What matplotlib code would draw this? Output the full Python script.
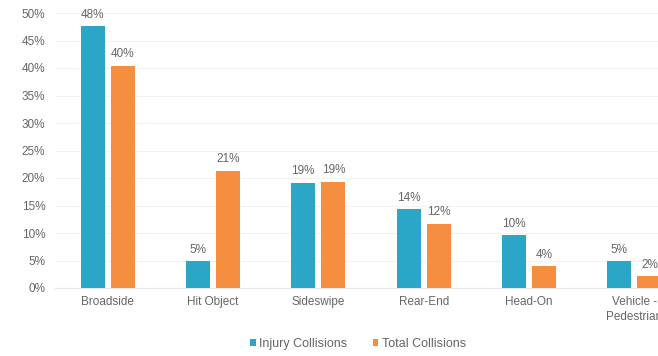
import matplotlib.pyplot as plt
import numpy as np

# Veri
categories = ['Broadside', 'Hit Object', 'Sideswipe', 'Rear-End', 'Head-On', 'Vehicle -\nPedestrian']
injury = [47.6, 4.9, 19.1, 14.3, 9.6, 4.9]
total = [40.4, 21.3, 19.3, 11.7, 4.0, 2.1]
injury_labels = ['48%', '5%', '19%', '14%', '10%', '5%']
total_labels = ['40%', '21%', '19%', '12%', '4%', '2%']
yticks = [0, 5, 10, 15, 20, 25, 30, 35, 40, 45, 50]

teal = '#2ba6c6'
orange = '#f58f3f'
grey = '#666666'

plt.rcParams['font.family'] = ['Liberation Sans', 'DejaVu Sans']

fig = plt.figure(figsize=(6.58, 3.56), dpi=100)
# axes runs past the right edge, like the cropped original
ax = fig.add_axes([55.0 / 658, 68.0 / 356, 632.0 / 658, 275.0 / 356])

x = np.arange(len(categories))
w = 0.228
off = 0.143
b1 = ax.bar(x - off, injury, w, color=teal, label='Injury Collisions', zorder=3)
b2 = ax.bar(x + off, total, w, color=orange, label='Total Collisions', zorder=3)

for rect, lab in zip(b1, injury_labels):
    ax.text(rect.get_x() + rect.get_width() / 2, rect.get_height() + 1.0, lab,
            ha='center', va='bottom', fontsize=8.5, color=grey)
for rect, lab in zip(b2, total_labels):
    ax.text(rect.get_x() + rect.get_width() / 2, rect.get_height() + 1.0, lab,
            ha='center', va='bottom', fontsize=8.5, color=grey)

ax.set_xlim(-0.5, 5.5)
ax.set_ylim(0, 50)
ax.set_yticks(yticks)
ax.set_yticklabels([f'{t}%' for t in yticks])
ax.set_xticks(x)
ax.set_xticklabels(categories, linespacing=1.3)

ax.tick_params(axis='both', length=0, labelsize=8.5, colors=grey)
ax.tick_params(axis='y', pad=7)
ax.tick_params(axis='x', pad=6)
ax.yaxis.grid(True, color='#f2f2f2', linewidth=0.8, zorder=0)
for s in ['top', 'right', 'left']:
    ax.spines[s].set_visible(False)
ax.spines['bottom'].set_color('#e6e6e6')

fig.legend(handles=[b1, b2], loc='center', bbox_to_anchor=(358.0 / 658, 1 - 344.0 / 356),
           ncol=2, frameon=False, fontsize=9, labelcolor=grey,
           handlelength=0.45, handleheight=0.45, handletextpad=0.3, columnspacing=2.0)

fig.savefig('out.png', dpi=100)
